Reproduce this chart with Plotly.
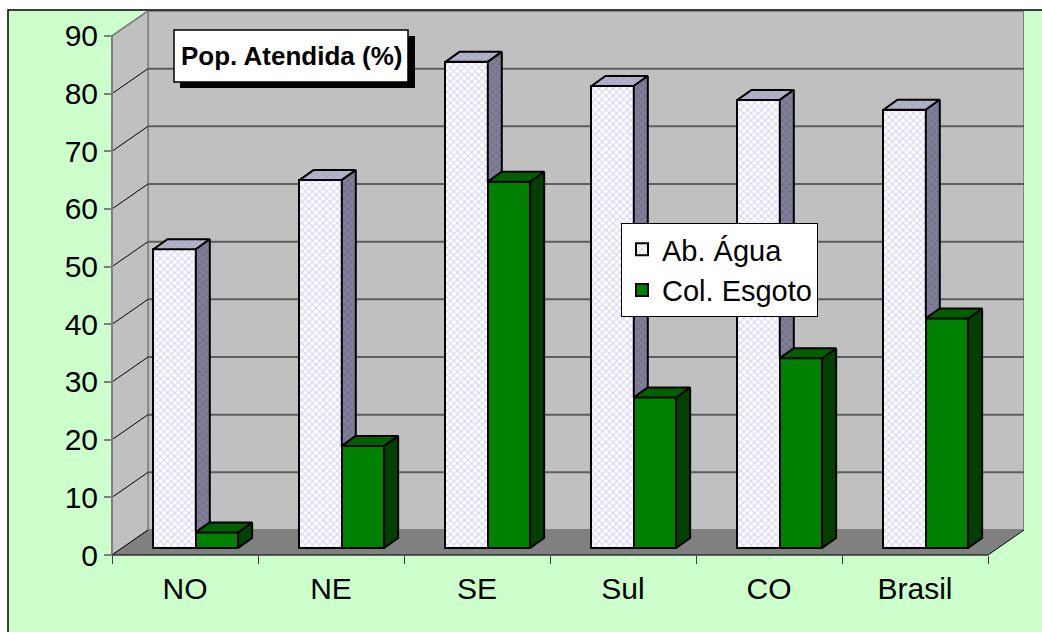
import plotly.graph_objects as go

# ---------------- data ----------------
categories = ["NO", "NE", "SE", "Sul", "CO", "Brasil"]
series_names = ["Ab. Água", "Col. Esgoto"]
agua = [51.8, 63.8, 84.3, 80.1, 77.7, 76.0]
esgoto = [2.7, 17.7, 63.5, 26.1, 32.9, 39.8]
y_ticks = [0, 10, 20, 30, 40, 50, 60, 70, 80, 90]
chart_title = "Pop. Atendida (%)"

# ---------------- layout geometry ----------------
W, H = 1042, 632
PXU_Y = 5.767      # px per value unit
PXU_X = 146.0      # px per category
X0_PX, Y0_PX = 112, 555
ML, MR, MT, MB = 104, 18, 11, 70
plot_w = W - ML - MR
plot_h = H - MT - MB
x_min = -(X0_PX - ML) / PXU_X
x_max = x_min + plot_w / PXU_X
y_min = -((H - MB) - Y0_PX) / PXU_Y
y_max = y_min + plot_h / PXU_Y

def pxx(px):
    return (px - ML) / plot_w

def pxy(py):
    return ((H - MB) - py) / plot_h

DX = 36 / PXU_X
DY = 25 / PXU_Y
Y_TOP = y_ticks[-1]
n = len(categories)

BAR_OFF = 0.284
BAR_W = 0.29
BAR_BASE = 7 / PXU_Y
BD_X = 14 / PXU_X
BD_Y = 10 / PXU_Y

FONT = "Arial, Liberation Sans, sans-serif"

A_FRONT = dict(bg="#FFFFFF", fg="#9E9EF2")
A_SIDE = dict(bg="#74748A", fg="#9898C4")
A_TOP = dict(bg="#B4B4C4", fg="#9494CC")
E_FRONT = "#008000"
E_SIDE = "#004000"
E_TOP = "#006000"
PAT_SIZE = 5
PAT_SOL = 0.35

fig = go.Figure()

# front faces as bars
xa = [i + BAR_OFF + BAR_W / 2 for i in range(n)]
xe = [i + BAR_OFF + BAR_W * 1.5 for i in range(n)]
fig.add_trace(go.Bar(
    x=xa, y=agua, base=BAR_BASE, width=BAR_W, name=series_names[0],
    legendgroup="a", customdata=categories,
    hovertemplate="%{customdata}: %{y}<extra>" + series_names[0] + "</extra>",
    marker=dict(color=A_FRONT["bg"], line=dict(color="black", width=2),
                pattern=dict(shape="x", bgcolor=A_FRONT["bg"], fgcolor=A_FRONT["fg"],
                             size=PAT_SIZE, solidity=PAT_SOL)),
))
fig.add_trace(go.Bar(
    x=xe, y=esgoto, base=BAR_BASE, width=BAR_W, name=series_names[1],
    legendgroup="e", customdata=categories,
    hovertemplate="%{customdata}: %{y}<extra>" + series_names[1] + "</extra>",
    marker=dict(color=E_FRONT, line=dict(color="black", width=2)),
))

def face(xs, ys, color=None, pattern=None):
    kw = dict(x=xs + [xs[0]], y=ys + [ys[0]], mode="lines", fill="toself",
              line=dict(color="black", width=2), showlegend=False, hoverinfo="skip")
    if pattern:
        kw["fillcolor"] = pattern["bg"]
        kw["fillpattern"] = dict(shape="x", bgcolor=pattern["bg"], fgcolor=pattern["fg"],
                                 size=PAT_SIZE, solidity=PAT_SOL)
    else:
        kw["fillcolor"] = color
    fig.add_trace(go.Scatter(**kw))

for i in range(n):
    al = i + BAR_OFF
    ar = al + BAR_W
    er = ar + BAR_W
    ta = BAR_BASE + agua[i]
    te = BAR_BASE + esgoto[i]
    b = BAR_BASE
    # agua top
    face([al, ar, ar + BD_X, al + BD_X], [ta, ta, ta + BD_Y, ta + BD_Y], pattern=A_TOP)
    # agua visible side (above esgoto top)
    lo = min(te, ta)
    face([ar, ar, ar + BD_X, ar + BD_X], [lo, ta, ta + BD_Y, lo + BD_Y], pattern=A_SIDE)
    # esgoto side
    face([er, er, er + BD_X, er + BD_X], [b, te, te + BD_Y, b + BD_Y], color=E_SIDE)
    # esgoto top
    face([ar, er, er + BD_X, ar + BD_X], [te, te, te + BD_Y, te + BD_Y], color=E_TOP)

shapes = []
# outer frame
shapes.append(dict(type="rect", xref="paper", yref="paper", layer="below",
                   x0=pxx(8), x1=pxx(1080), y0=pxy(680), y1=pxy(10),
                   fillcolor="#CCFFCC", line=dict(color="black", width=1.5)))
# back wall
shapes.append(dict(type="rect", xref="x", yref="y", layer="below",
                   x0=DX, x1=n + DX, y0=DY, y1=Y_TOP + DY,
                   fillcolor="#C0C0C0", line=dict(color="#808080", width=2)))
# left wall
shapes.append(dict(type="path", xref="x", yref="y", layer="below",
                   path=f"M0,0 L0,{Y_TOP} L{DX},{Y_TOP + DY} L{DX},{DY} Z",
                   fillcolor="#C0C0C0", line=dict(color="#808080", width=1.5)))
# floor
shapes.append(dict(type="path", xref="x", yref="y", layer="below",
                   path=f"M0,0 L{n},0 L{n + DX},{DY} L{DX},{DY} Z",
                   fillcolor="#808080", line=dict(width=0)))
# gridlines
for v in y_ticks[1:-1]:
    shapes.append(dict(type="line", xref="x", yref="y", layer="below",
                       x0=DX, x1=n + DX, y0=v + DY, y1=v + DY,
                       line=dict(color="#5E5E5E", width=2)))
    shapes.append(dict(type="line", xref="x", yref="y", layer="below",
                       x0=0, x1=DX, y0=v, y1=v + DY,
                       line=dict(color="black", width=1)))
# edges
shapes.append(dict(type="line", xref="x", yref="y", layer="below",
                   x0=0, x1=DX, y0=0, y1=DY, line=dict(color="black", width=1)))
shapes.append(dict(type="line", xref="x", yref="y", layer="below",
                   x0=0, x1=0, y0=0, y1=Y_TOP, line=dict(color="#808080", width=2)))
shapes.append(dict(type="line", xref="x", yref="y", layer="below",
                   x0=0, x1=DX, y0=Y_TOP, y1=Y_TOP + DY, line=dict(color="#808080", width=1.5)))
shapes.append(dict(type="line", xref="x", yref="y", layer="below",
                   x0=0, x1=n, y0=0, y1=0, line=dict(color="#303030", width=1.5)))
shapes.append(dict(type="line", xref="x", yref="y", layer="below",
                   x0=n, x1=n + DX, y0=0, y1=DY, line=dict(color="black", width=1)))
# title box with shadow
shapes.append(dict(type="rect", xref="paper", yref="paper",
                   x0=pxx(180), x1=pxx(415), y0=pxy(88), y1=pxy(36),
                   fillcolor="black", line=dict(width=0)))
shapes.append(dict(type="rect", xref="paper", yref="paper",
                   x0=pxx(174), x1=pxx(408), y0=pxy(82), y1=pxy(30),
                   fillcolor="white", line=dict(color="black", width=1.5)))

fig.update_layout(
    width=W, height=H,
    margin=dict(l=ML, r=MR, t=MT, b=MB),
    paper_bgcolor="white", plot_bgcolor="rgba(0,0,0,0)",
    barmode="overlay", bargap=0,
    font=dict(family=FONT, color="black", size=30),
    shapes=shapes,
    annotations=[dict(xref="paper", yref="paper", x=pxx(291), y=pxy(56),
                      text="<b>" + chart_title + "</b>", showarrow=False,
                      font=dict(family=FONT, size=26, color="black"),
                      xanchor="center", yanchor="middle")],
    legend=dict(x=pxx(621), y=pxy(223), xanchor="left", yanchor="top",
                bgcolor="white", bordercolor="black", borderwidth=1,
                font=dict(family=FONT, size=29, color="black"),
                tracegroupgap=8, traceorder="normal", itemwidth=30),
    xaxis=dict(range=[x_min, x_max], showgrid=False, zeroline=False, showline=False,
               tickmode="array", tickvals=[i + 0.5 for i in range(n)], ticktext=categories,
               ticks="", ticklabelstandoff=13, anchor="free", position=pxy(Y0_PX),
               tickfont=dict(size=30),
               minor=dict(tickmode="array", tickvals=list(range(n + 1)), ticks="outside",
                          ticklen=8, tickwidth=1, tickcolor="#404040")),
    yaxis=dict(range=[y_min, y_max], showgrid=False, zeroline=False, showline=False,
               tickmode="array", tickvals=y_ticks, ticks="outside", ticklen=8,
               tickcolor="#808080", tickwidth=1.5, anchor="free", position=pxx(X0_PX),
               tickfont=dict(size=30)),
)

fig.write_html("out.html")
